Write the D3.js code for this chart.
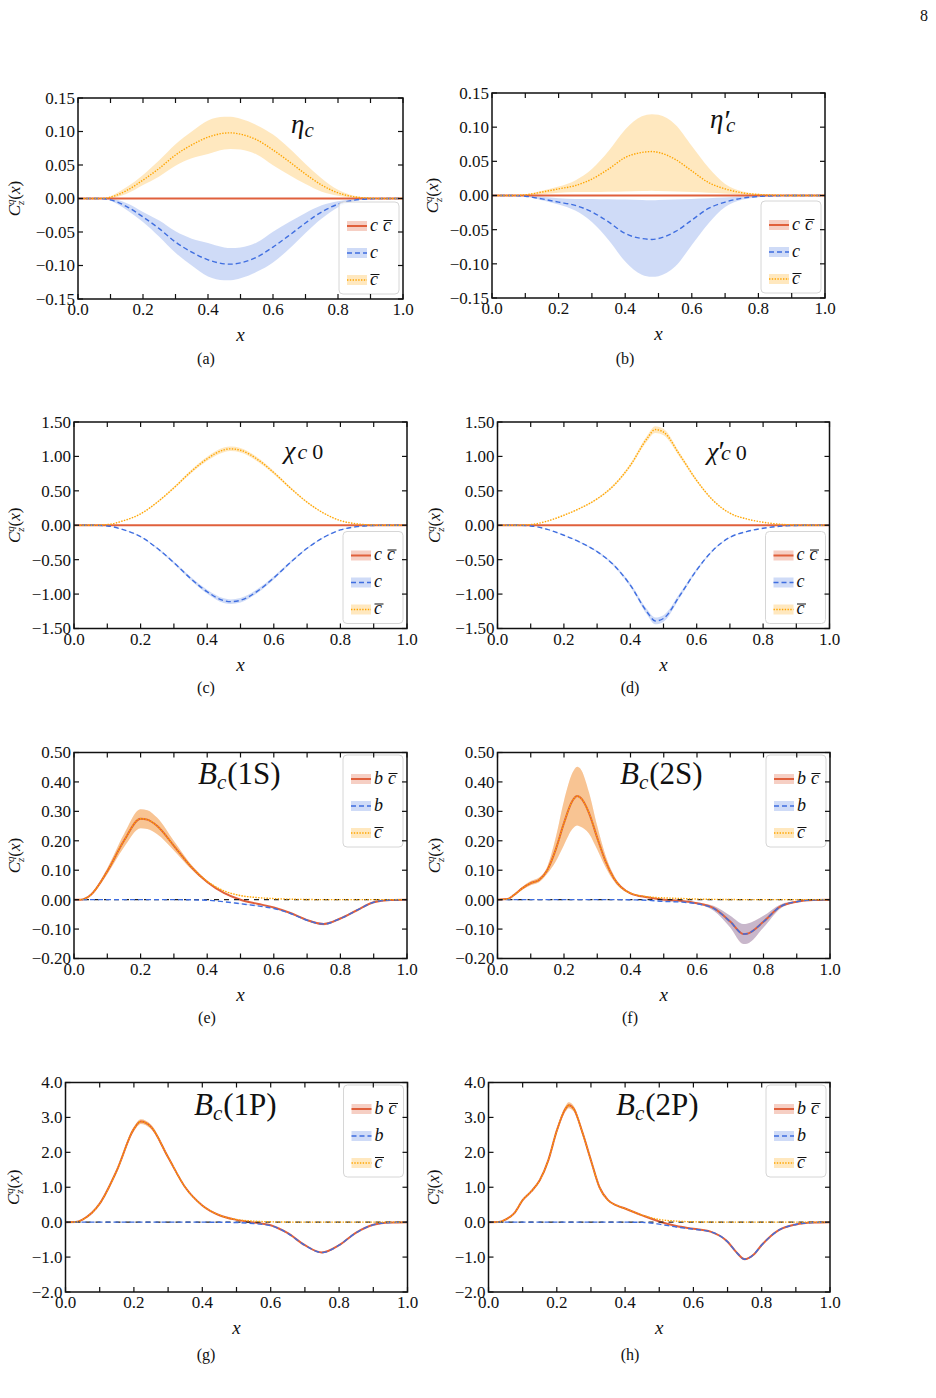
<!DOCTYPE html>
<html><head><meta charset="utf-8">
<script src="https://cdn.jsdelivr.net/npm/d3@7"></script>
<style>
body{margin:0;background:#fff}
svg{display:block;font-family:"Liberation Serif","Times New Roman",serif}
text{font-family:"Liberation Serif","Times New Roman",serif;fill:#111}
</style>
</head><body>
<svg id="c" width="936" height="1398"></svg>
<script>
// ---------------- DATA ----------------
const xTicks = [0, 0.1, 0.2, 0.3, 0.4, 0.5, 0.6, 0.7, 0.8, 0.9, 1.0];
const xTickLabels = [0, 0.2, 0.4, 0.6, 0.8, 1.0];
const yTicksAB = [-0.15, -0.10, -0.05, 0.00, 0.05, 0.10, 0.15];
const yTicksCD = [-1.5, -1.0, -0.5, 0.0, 0.5, 1.0, 1.5];
const yTicksEF = [-0.2, -0.1, 0.0, 0.1, 0.2, 0.3, 0.4, 0.5];
const yTicksGH = [-2, -1, 0, 1, 2, 3, 4];

// (a) eta_c
const xA = [0,0.05,0.08,0.1,0.15,0.2,0.25,0.3,0.35,0.4,0.45,0.47,0.5,0.55,0.6,0.65,0.7,0.75,0.8,0.85,0.9,0.95,1.0];
const cbarA = [0,0,0.0003,0.002,0.012,0.0275,0.045,0.065,0.08,0.0915,0.0975,0.098,0.096,0.0875,0.0725,0.055,0.0365,0.02,0.0085,0.0025,0.0005,0,0];
const cbarErrA = [0,0,0.0002,0.0015,0.005,0.0075,0.012,0.016,0.02,0.025,0.0245,0.024,0.023,0.022,0.023,0.02,0.015,0.01,0.0045,0.0015,0.0003,0,0];
const cA = [0,0,-0.0003,-0.002,-0.012,-0.0275,-0.045,-0.065,-0.08,-0.0915,-0.0975,-0.098,-0.096,-0.0875,-0.0725,-0.055,-0.0365,-0.02,-0.0085,-0.0025,-0.0005,0,0];
const cErrA = [0,0,0.0002,0.0015,0.005,0.0075,0.012,0.016,0.02,0.025,0.0245,0.024,0.023,0.022,0.023,0.02,0.015,0.01,0.0045,0.0015,0.0003,0,0];
const totA = [0,0,0,0,0,0,0,0,0,0,0,0,0,0,0,0,0,0,0,0,0,0,0];

// (b) eta_c'
const xB = [0,0.05,0.08,0.1,0.15,0.2,0.25,0.3,0.35,0.4,0.45,0.48,0.5,0.55,0.6,0.65,0.7,0.75,0.8,0.85,0.9,0.95,1.0];
const cbarB = [0,0,0.0003,0.001,0.005,0.0097,0.0145,0.024,0.0387,0.0556,0.063,0.0643,0.063,0.053,0.036,0.019,0.0097,0.004,0.0015,0.0005,0,0,0];
const cbarHiB = [0,0,0.0005,0.0015,0.007,0.013,0.022,0.0387,0.065,0.0966,0.116,0.119,0.118,0.104,0.0725,0.041,0.017,0.0063,0.0024,0.0008,0,0,0];
const cbarLoB = [0,0,0.0001,0.0005,0.002,0.004,0.005,0.005,0.0055,0.006,0.0065,0.007,0.0065,0.006,0.005,0.004,0.003,0.0015,0.0007,0.0002,0,0,0];
const cB = [0,0,-0.0003,-0.001,-0.005,-0.0097,-0.0145,-0.024,-0.0387,-0.0556,-0.063,-0.0643,-0.063,-0.053,-0.036,-0.019,-0.0097,-0.004,-0.0015,-0.0005,0,0,0];
const cHiB = [0,0,-0.0001,-0.0005,-0.002,-0.004,-0.005,-0.005,-0.0055,-0.006,-0.0065,-0.007,-0.0065,-0.006,-0.005,-0.004,-0.003,-0.0015,-0.0007,-0.0002,0,0,0];
const cLoB = [0,0,-0.0005,-0.0015,-0.007,-0.013,-0.022,-0.0387,-0.065,-0.0966,-0.116,-0.119,-0.118,-0.104,-0.0725,-0.041,-0.017,-0.0063,-0.0024,-0.0008,0,0,0];
const totB = [0,0,0,0,0,0,0,0,0,0,0,0,0,0,0,0,0,0,0,0,0,0,0];

// (c) chi_c0
const xC = [0,0.05,0.1,0.15,0.2,0.25,0.3,0.35,0.4,0.45,0.47,0.5,0.55,0.6,0.65,0.7,0.75,0.8,0.85,0.9,0.95,1.0];
const cbarC = [0,0,0.01,0.068,0.165,0.335,0.544,0.772,0.966,1.095,1.11,1.09,0.96,0.765,0.54,0.335,0.175,0.068,0.02,0.003,0,0];
const cbarErrC = [0,0,0,0.002,0.005,0.01,0.016,0.023,0.029,0.033,0.033,0.033,0.029,0.023,0.016,0.01,0.005,0.002,0.001,0,0,0];
const cC = [0,0,-0.01,-0.068,-0.165,-0.335,-0.544,-0.772,-0.966,-1.095,-1.11,-1.09,-0.96,-0.765,-0.54,-0.335,-0.175,-0.068,-0.02,-0.003,0,0];
const cErrC = [0,0,0,0.002,0.005,0.01,0.016,0.023,0.029,0.033,0.033,0.033,0.029,0.023,0.016,0.01,0.005,0.002,0.001,0,0,0];
const totC = [0,0,0,0,0,0,0,0,0,0,0,0,0,0,0,0,0,0,0,0,0,0];

// (d) chi_c0'
const xD = [0,0.05,0.1,0.15,0.2,0.25,0.3,0.35,0.4,0.45,0.475,0.5,0.55,0.6,0.65,0.7,0.75,0.8,0.85,0.9,0.95,1.0];
const cbarD = [0,0,0.01,0.06,0.145,0.25,0.383,0.578,0.869,1.257,1.39,1.354,1.014,0.65,0.359,0.175,0.092,0.044,0.015,0.003,0,0];
const cbarErrD = [0,0,0,0.002,0.004,0.007,0.011,0.017,0.026,0.04,0.05,0.048,0.032,0.02,0.011,0.005,0.003,0.001,0,0,0,0];
const cD = [0,0,-0.01,-0.06,-0.145,-0.25,-0.383,-0.578,-0.869,-1.257,-1.39,-1.354,-1.014,-0.65,-0.359,-0.175,-0.092,-0.044,-0.015,-0.003,0,0];
const cErrD = [0,0,0,0.002,0.004,0.007,0.011,0.017,0.026,0.04,0.05,0.048,0.032,0.02,0.011,0.005,0.003,0.001,0,0,0,0];
const totD = [0,0,0,0,0,0,0,0,0,0,0,0,0,0,0,0,0,0,0,0,0,0];

// (e) B_c(1S)
const xE = [0,0.02,0.05,0.1,0.15,0.2,0.22,0.25,0.3,0.35,0.4,0.45,0.5,0.55,0.6,0.65,0.7,0.75,0.8,0.85,0.9,0.95,1.0];
const cbarE = [0,0,0.016,0.0966,0.2,0.275,0.272,0.25,0.183,0.114,0.062,0.03,0.0138,0.007,0.0035,0.0015,0.0005,0,0,0,0,0,0];
const cbarErrE = [0,0,0.003,0.01,0.022,0.032,0.032,0.028,0.016,0.008,0.004,0.002,0.001,0,0,0,0,0,0,0,0,0,0];
const bE = [0,0,0,0,0,0,0,0,0,-0.0005,-0.002,-0.007,-0.014,-0.021,-0.03,-0.047,-0.07,-0.083,-0.064,-0.036,-0.009,-0.001,0];
const bErrE = [0,0,0,0,0,0,0,0,0,0,0,0,0.0005,0.001,0.001,0.002,0.003,0.004,0.003,0.002,0.001,0,0];
const totE = [0,0,0.016,0.0966,0.2,0.275,0.272,0.25,0.183,0.1135,0.06,0.023,-0.0002,-0.014,-0.0265,-0.0455,-0.0695,-0.083,-0.064,-0.036,-0.009,-0.001,0];
const totErrE = [0,0,0.003,0.01,0.022,0.032,0.032,0.028,0.016,0.008,0.004,0.002,0.001,0.001,0.001,0.002,0.003,0.004,0.003,0.002,0.001,0,0];

// (f) B_c(2S)
const xF = [0,0.03,0.05,0.075,0.1,0.125,0.15,0.175,0.2,0.225,0.24,0.25,0.275,0.3,0.325,0.35,0.4,0.45,0.5,0.55,0.6,0.65,0.7,0.74,0.75,0.8,0.85,0.9,0.95,1.0];
const cbarF = [0,0.002,0.016,0.039,0.056,0.067,0.101,0.17,0.261,0.335,0.352,0.346,0.295,0.21,0.13,0.073,0.022,0.01,0.006,0.004,0.002,0.001,0.0005,0,0,0,0,0,0,0];
const cbarErrF = [0,0.001,0.003,0.005,0.007,0.008,0.012,0.04,0.075,0.095,0.1,0.098,0.07,0.04,0.02,0.01,0.003,0.001,0,0,0,0,0,0,0,0,0,0,0,0];
const bF = [0,0,0,0,0,0,0,0,0,0,0,0,0,0,0,0,-0.0005,-0.002,-0.006,-0.008,-0.014,-0.03,-0.075,-0.117,-0.116,-0.075,-0.024,-0.007,-0.001,0];
const bErrF = [0,0,0,0,0,0,0,0,0,0,0,0,0,0,0,0,0,0,0.001,0.001,0.002,0.008,0.02,0.034,0.034,0.02,0.007,0.002,0,0];
const totF = [0,0.002,0.016,0.039,0.056,0.067,0.101,0.17,0.261,0.335,0.352,0.346,0.295,0.21,0.13,0.073,0.0215,0.008,0,-0.004,-0.012,-0.029,-0.0745,-0.117,-0.116,-0.075,-0.024,-0.007,-0.001,0];
const totErrF = [0,0.001,0.003,0.005,0.007,0.008,0.012,0.04,0.075,0.095,0.1,0.098,0.07,0.04,0.02,0.01,0.003,0.001,0.001,0.001,0.002,0.008,0.02,0.034,0.034,0.02,0.007,0.002,0,0];

// (g) B_c(1P)
const xG = [0,0.03,0.05,0.1,0.15,0.2,0.22,0.25,0.3,0.35,0.4,0.45,0.5,0.55,0.6,0.65,0.7,0.75,0.8,0.85,0.9,0.95,1.0];
const cbarG = [0,0.005,0.076,0.53,1.48,2.67,2.88,2.73,1.86,1.0,0.48,0.2,0.076,0.03,0.01,0.003,0,0,0,0,0,0,0];
const cbarErrG = [0,0,0.002,0.015,0.04,0.065,0.07,0.065,0.045,0.025,0.012,0.005,0.002,0,0,0,0,0,0,0,0,0,0];
const bG = [0,0,0,0,0,0,0,0,0,0,0,-0.002,-0.01,-0.04,-0.1,-0.32,-0.66,-0.87,-0.66,-0.3,-0.076,-0.01,0];
const bErrG = [0,0,0,0,0,0,0,0,0,0,0,0,0,0.001,0.003,0.008,0.015,0.02,0.015,0.008,0.002,0,0];
const totG = [0,0.005,0.076,0.53,1.48,2.67,2.88,2.73,1.86,1.0,0.48,0.198,0.066,-0.01,-0.09,-0.317,-0.66,-0.87,-0.66,-0.3,-0.076,-0.01,0];
const totErrG = [0,0,0.002,0.015,0.04,0.065,0.07,0.065,0.045,0.025,0.012,0.005,0.002,0.001,0.003,0.008,0.015,0.02,0.015,0.008,0.002,0,0];

// (h) B_c(2P)
const xH = [0,0.03,0.05,0.075,0.1,0.125,0.15,0.175,0.2,0.225,0.235,0.25,0.275,0.3,0.325,0.35,0.375,0.4,0.45,0.5,0.55,0.6,0.65,0.7,0.725,0.75,0.775,0.8,0.85,0.9,0.95,1.0];
const cbarH = [0,0.005,0.076,0.25,0.63,0.88,1.2,1.77,2.62,3.24,3.35,3.24,2.57,1.77,1.0,0.63,0.48,0.39,0.2,0.076,0.03,0.01,0.003,0,0,0,0,0,0,0,0,0];
const cbarErrH = [0,0,0.002,0.006,0.015,0.02,0.03,0.045,0.065,0.08,0.085,0.08,0.065,0.045,0.025,0.015,0.012,0.01,0.005,0.002,0,0,0,0,0,0,0,0,0,0,0,0];
const bH = [0,0,0,0,0,0,0,0,0,0,0,0,0,0,0,0,0,0,-0.005,-0.057,-0.14,-0.2,-0.275,-0.56,-0.85,-1.06,-0.94,-0.655,-0.23,-0.066,-0.01,0];
const bErrH = [0,0,0,0,0,0,0,0,0,0,0,0,0,0,0,0,0,0,0,0.001,0.003,0.004,0.006,0.012,0.018,0.022,0.02,0.014,0.005,0.001,0,0];
const totH = [0,0.005,0.076,0.25,0.63,0.88,1.2,1.77,2.62,3.24,3.35,3.24,2.57,1.77,1.0,0.63,0.48,0.39,0.195,0.019,-0.11,-0.19,-0.272,-0.56,-0.85,-1.06,-0.94,-0.655,-0.23,-0.066,-0.01,0];
const totErrH = [0,0,0.002,0.006,0.015,0.02,0.03,0.045,0.065,0.08,0.085,0.08,0.065,0.045,0.025,0.015,0.012,0.01,0.005,0.002,0.003,0.004,0.006,0.012,0.018,0.022,0.02,0.014,0.005,0.001,0,0];

// legend labels: parts [text, overbar?]
const legendCharm = [[["c",0],["c",1]], [["c",0]], [["c",1]]];
const legendBc = [[["b",0],["c",1]], [["b",0]], [["c",1]]];
const subcaptions = ["(a)","(b)","(c)","(d)","(e)","(f)","(g)","(h)"];

// ---------------- STYLE / LAYOUT ----------------
const RED = "#e0603c", BLUE = "#3f6ee0", ORANGE = "#ffa500";
const svg = d3.select("#c");

const panels = [
 {key:"a", L:78, R:403, T:98, B:299, yDom:[-0.15,0.15], yTicks:yTicksAB, fmt:".2f", legTop:false, leg:legendCharm, cap:[206,364], ylabX:15,
  x:xA, tot:totA, q:cA, qErr:cErrA, qb:cbarA, qbErr:cbarErrA, zeroDash:false},
 {key:"b", L:492, R:825, T:93, B:298, yDom:[-0.15,0.15], yTicks:yTicksAB, fmt:".2f", legTop:false, leg:legendCharm, cap:[625,364], ylabX:433,
  x:xB, tot:totB, q:cB, qLo:cLoB, qHi:cHiB, qb:cbarB, qbLo:cbarLoB, qbHi:cbarHiB, zeroDash:false},
 {key:"c", L:74, R:407, T:422, B:628.5, yDom:[-1.5,1.5], yTicks:yTicksCD, fmt:".2f", legTop:false, leg:legendCharm, cap:[206,693], ylabX:15,
  x:xC, tot:totC, q:cC, qErr:cErrC, qb:cbarC, qbErr:cbarErrC, zeroDash:false},
 {key:"d", L:497.5, R:829.5, T:422, B:628.5, yDom:[-1.5,1.5], yTicks:yTicksCD, fmt:".2f", legTop:false, leg:legendCharm, cap:[630,693], ylabX:435,
  x:xD, tot:totD, q:cD, qErr:cErrD, qb:cbarD, qbErr:cbarErrD, zeroDash:false},
 {key:"e", L:74, R:407, T:752.5, B:958.5, yDom:[-0.2,0.5], yTicks:yTicksEF, fmt:".2f", legTop:true, leg:legendBc, cap:[207,1023], ylabX:15,
  x:xE, tot:totE, totErr:totErrE, q:bE, qErr:bErrE, qb:cbarE, qbErr:cbarErrE, zeroDash:true},
 {key:"f", L:497.5, R:830, T:752.5, B:958.5, yDom:[-0.2,0.5], yTicks:yTicksEF, fmt:".2f", legTop:true, leg:legendBc, cap:[630,1023], ylabX:435,
  x:xF, tot:totF, totErr:totErrF, q:bF, qErr:bErrF, qb:cbarF, qbErr:cbarErrF, zeroDash:true},
 {key:"g", L:65.5, R:407.5, T:1082.5, B:1292, yDom:[-2,4], yTicks:yTicksGH, fmt:".1f", legTop:true, leg:legendBc, cap:[206,1360], ylabX:14,
  x:xG, tot:totG, totErr:totErrG, q:bG, qErr:bErrG, qb:cbarG, qbErr:cbarErrG, zeroDash:true},
 {key:"h", L:488.5, R:830, T:1082.5, B:1292, yDom:[-2,4], yTicks:yTicksGH, fmt:".1f", legTop:true, leg:legendBc, cap:[630,1360], ylabX:434,
  x:xH, tot:totH, totErr:totErrH, q:bH, qErr:bErrH, qb:cbarH, qbErr:cbarErrH, zeroDash:true}
];

function band(vals, err, lo, hi) {
  return vals.map((v,i) => ({
    lo: lo ? lo[i] : v - (err ? err[i] : 0),
    hi: hi ? hi[i] : v + (err ? err[i] : 0)
  }));
}

function drawPanel(p, idx) {
  const x = d3.scaleLinear().domain([0,1]).range([p.L, p.R]);
  const y = d3.scaleLinear().domain(p.yDom).range([p.B, p.T]);
  const g = svg.append("g");
  const cid = "clip" + p.key;
  svg.append("clipPath").attr("id", cid).append("rect")
    .attr("x", p.L).attr("y", p.T).attr("width", p.R - p.L).attr("height", p.B - p.T);
  const plot = g.append("g").attr("clip-path", `url(#${cid})`);

  const series = [
    {v:p.tot, b:band(p.tot, p.totErr), color:RED, op:0.3, dash:null, w:2},
    {v:p.q, b:band(p.q, p.qErr, p.qLo, p.qHi), color:BLUE, op:0.25, dash:"5,3", w:1.4},
    {v:p.qb, b:band(p.qb, p.qbErr, p.qbLo, p.qbHi), color:ORANGE, op:0.25, dash:"1.4,1.4", w:1.4}
  ];
  const area = d3.area().x((d,i) => x(p.x[i])).y0(d => y(d.lo)).y1(d => y(d.hi)).curve(d3.curveMonotoneX);
  const line = d3.line().x((d,i) => x(p.x[i])).y(d => y(d)).curve(d3.curveMonotoneX);

  series.forEach(s => {
    plot.append("path").datum(s.b).attr("d", area).attr("fill", s.color).attr("fill-opacity", s.op).attr("stroke","none");
  });
  plot.append("path").datum(series[0].v).attr("d", line).attr("fill","none")
    .attr("stroke", RED).attr("stroke-width", series[0].w);
  if (p.zeroDash) {
    plot.append("line").attr("x1", p.L).attr("x2", p.R).attr("y1", y(0)).attr("y2", y(0))
      .attr("stroke","#222").attr("stroke-width",1.2).attr("stroke-dasharray","5,5");
  }
  [series[1], series[2]].forEach(s => {
    plot.append("path").datum(s.v).attr("d", line).attr("fill","none")
      .attr("stroke", s.color).attr("stroke-width", s.w).attr("stroke-dasharray", s.dash);
  });

  // legend
  const lw = 60, lh = 92;
  const lx = p.R - 4 - lw;
  const ly = p.legTop ? p.T + 2.5 : p.B - 5 - lh;
  const lg = g.append("g");
  lg.append("rect").attr("x", lx).attr("y", ly).attr("width", lw).attr("height", lh)
    .attr("rx", 4).attr("fill", "#fff").attr("fill-opacity", 0.85).attr("stroke", "#d6d6d6").attr("stroke-width", 1);
  const rows = [24, 51, 78];
  series.forEach((s, i) => {
    const ry = ly + rows[i];
    lg.append("rect").attr("x", lx + 8).attr("y", ry - 5).attr("width", 20).attr("height", 10)
      .attr("fill", s.color).attr("fill-opacity", s.op);
    lg.append("line").attr("x1", lx + 8).attr("x2", lx + 28).attr("y1", ry).attr("y2", ry)
      .attr("stroke", s.color).attr("stroke-width", s.w).attr("stroke-dasharray", s.dash);
    const t = lg.append("text").attr("x", lx + 31).attr("y", ry + 4.5)
      .attr("font-size", 18).attr("font-style", "italic");
    p.leg[i].forEach((part, j) => {
      t.append("tspan").attr("dx", j > 0 ? 5 : 0).text(part[0]);
    });
    p.leg[i].forEach((part, j) => {
      if (part[1]) {
        const n = t.node();
        let start = 0;
        for (let k = 0; k < j; k++) start += p.leg[i][k][0].length;
        const ext = n.getExtentOfChar(start);
        lg.append("line").attr("x1", ext.x + 0.5).attr("x2", ext.x + ext.width + 1.5)
          .attr("y1", ry - 5.5).attr("y2", ry - 5.5).attr("stroke", "#111").attr("stroke-width", 1);
      }
    });
  });

  // frame & ticks
  g.append("rect").attr("x", p.L).attr("y", p.T).attr("width", p.R - p.L).attr("height", p.B - p.T)
    .attr("fill","none").attr("stroke","#111").attr("stroke-width",1.5);
  const tl = 5;
  xTicks.forEach(t => {
    g.append("line").attr("x1", x(t)).attr("x2", x(t)).attr("y1", p.B).attr("y2", p.B - tl).attr("stroke","#111").attr("stroke-width",1.2);
    g.append("line").attr("x1", x(t)).attr("x2", x(t)).attr("y1", p.T).attr("y2", p.T + tl).attr("stroke","#111").attr("stroke-width",1.2);
  });
  p.yTicks.forEach(t => {
    g.append("line").attr("x1", p.L).attr("x2", p.L + tl).attr("y1", y(t)).attr("y2", y(t)).attr("stroke","#111").attr("stroke-width",1.2);
    g.append("line").attr("x1", p.R).attr("x2", p.R - tl).attr("y1", y(t)).attr("y2", y(t)).attr("stroke","#111").attr("stroke-width",1.2);
  });
  const fx = d3.format(".1f"), fy = d3.format(p.fmt);
  xTickLabels.forEach(t => {
    g.append("text").attr("x", x(t)).attr("y", p.B + 16).attr("text-anchor","middle")
      .attr("font-size", 17).text(fx(t));
  });
  p.yTicks.forEach(t => {
    g.append("text").attr("x", p.L - 3).attr("y", y(t)).attr("dy", "0.35em").attr("text-anchor","end")
      .attr("font-size", 17).text(fy(t));
  });
  // axis labels
  g.append("text").attr("x", (p.L + p.R) / 2).attr("y", p.B + 42).attr("text-anchor","middle")
    .attr("font-size", 19).attr("font-style","italic").text("x");
  const yl = g.append("text").attr("transform", `translate(${p.ylabX + 5},${(p.T + p.B) / 2}) rotate(-90)`)
    .attr("text-anchor","middle").attr("font-size", 17);
  yl.append("tspan").attr("font-style","italic").text("C");
  yl.append("tspan").attr("font-style","italic").attr("font-size", 11).attr("dy", -6).text("q");
  yl.append("tspan").attr("font-style","italic").attr("font-size", 11).attr("dx", -5.5).attr("dy", 10).text("z");
  yl.append("tspan").attr("dy", -4).attr("dx", 1).text("(");
  yl.append("tspan").attr("font-style","italic").text("x");
  yl.append("tspan").text(")");
  g.append("text").attr("x", p.cap[0]).attr("y", p.cap[1]).attr("text-anchor","middle")
    .attr("font-size", 16).text(subcaptions[idx]);
}

panels.forEach(drawPanel);

// ---------------- TITLES ----------------
function title(x, y, parts) {
  const t = svg.append("text").attr("x", x).attr("y", y);
  parts.forEach(p => {
    const s = t.append("tspan").attr("font-size", p.size).attr("font-style", p.it ? "italic" : "normal").text(p.s);
    if (p.dx) s.attr("dx", p.dx);
    if (p.dy) s.attr("dy", p.dy);
  });
}
title(291, 133, [{s:"η", size:27, it:1}, {s:"c", size:21, it:1, dx:0, dy:4}]);
title(710, 128, [{s:"η", size:27, it:1}, {s:"′", size:30, it:0, dx:1, dy:2}, {s:"c", size:21, it:1, dx:-5, dy:2}]);
title(284, 459, [{s:"χ", size:26, it:1}, {s:"c", size:22, it:1, dx:2}, {s:"0", size:22, it:0, dx:5}]);
title(707, 460, [{s:"χ", size:26, it:1}, {s:"′", size:30, it:0, dx:0, dy:1}, {s:"c", size:22, it:1, dx:-4, dy:-1}, {s:"0", size:22, it:0, dx:5}]);
function Bc(x, y, state) {
  title(x, y, [{s:"B", size:31, it:1}, {s:"c", size:21, it:1, dy:5}, {s:"(" + state + ")", size:31, it:0, dx:1, dy:-5}]);
}
Bc(198, 784, "1S");
Bc(620, 784, "2S");
Bc(194, 1115, "1P");
Bc(616, 1115, "2P");

svg.append("text").attr("x", 920).attr("y", 21).attr("font-size", 16).text("8");
</script>
</body></html>
